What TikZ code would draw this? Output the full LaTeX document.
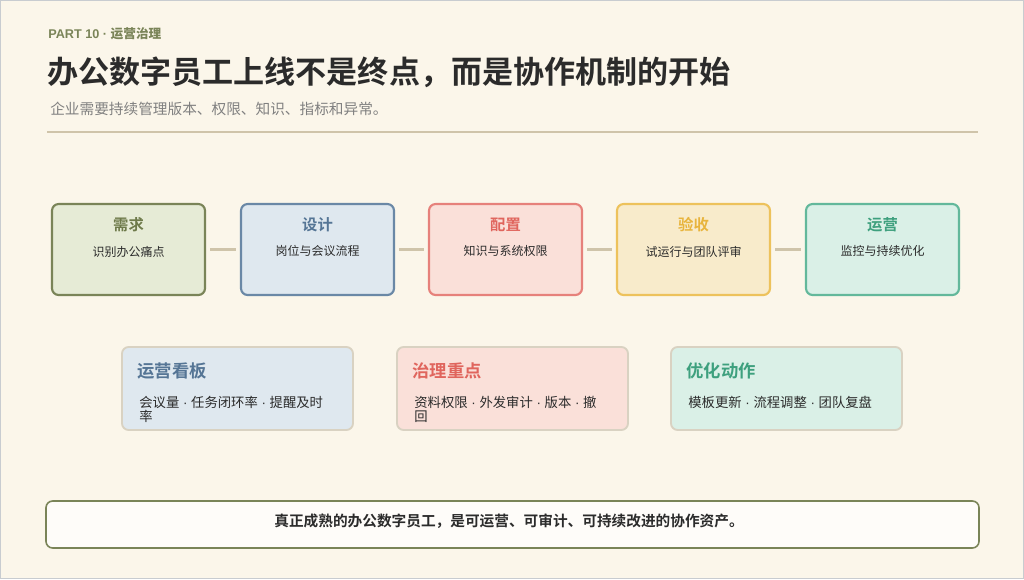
\documentclass[tikz,border=0pt]{standalone}
\usepackage{fontspec}
\setmainfont{Noto Sans CJK SC}
\newfontfamily\cjkb{Noto Sans CJK SC Bold}
\newfontfamily\latb{Liberation Sans}[BoldFont=* Bold]
\newcommand{\sepdot}{{\latb\ ·\ }}
\definecolor{bg}{HTML}{FBF6EA}
\definecolor{frame}{HTML}{C8CCD0}
\definecolor{rulec}{HTML}{CFC4AA}
\definecolor{olive}{HTML}{7A8458}
\definecolor{oliveT}{HTML}{6E7A4A}
\definecolor{oliveF}{HTML}{E6EBD6}
\definecolor{blueB}{HTML}{6A88A6}
\definecolor{blueT}{HTML}{557595}
\definecolor{blueF}{HTML}{DFE8EF}
\definecolor{redB}{HTML}{E6817B}
\definecolor{redT}{HTML}{E0655D}
\definecolor{redF}{HTML}{FAE0D9}
\definecolor{yelB}{HTML}{EDC25C}
\definecolor{yelT}{HTML}{E8B43C}
\definecolor{yelF}{HTML}{F8EBCB}
\definecolor{grnB}{HTML}{63B89B}
\definecolor{grnT}{HTML}{3EA07E}
\definecolor{grnF}{HTML}{DAF0E7}
\definecolor{softB}{HTML}{D9D2C2}
\definecolor{dark}{HTML}{2B2B2B}
\definecolor{grey}{HTML}{808080}
\begin{document}
\begin{tikzpicture}[x=0.75pt,y=-0.75pt,
  stage/.style={draw=#1,line width=1.6pt,rounded corners=5pt,minimum width=153*0.75pt,minimum height=91*0.75pt,inner sep=0pt},
  card/.style={draw=softB,line width=1.4pt,rounded corners=5pt,minimum width=231*0.75pt,minimum height=83*0.75pt,inner sep=0pt},
  link/.style={draw=rulec,line width=2.2pt},
  sttitle/.style={font=\cjkb\fontsize{11.5}{13}\selectfont,inner sep=0pt},
  stsub/.style={font=\fontsize{9}{11}\selectfont,text=dark,inner sep=0pt},
  cdtitle/.style={font=\cjkb\fontsize{13}{15}\selectfont,anchor=west,inner sep=0pt},
  cdtext/.style={font=\fontsize{10}{10.5}\selectfont,text=dark,anchor=north west,align=left,inner sep=0pt}]
\useasboundingbox (0,0) rectangle (1024,579);
\fill[bg] (0,0) rectangle (1024,579);
\draw[frame,line width=1.2pt] (0.6,0.6) rectangle (1023.4,578.4);
% header
\node[anchor=west,inner sep=0pt,text=olive,font=\latb\bfseries\fontsize{9.5}{11}\selectfont] (part) at (48,33.5) {PART 10 · {\cjkb 运营治理}};
\node[anchor=west,inner sep=0pt,text=dark,font=\cjkb\fontsize{23.3}{28}\selectfont] (title) at (47,72) {办公数字员工上线不是终点，而是协作机制的开始};
\node[anchor=west,inner sep=0pt,text=grey,font=\fontsize{11}{13}\selectfont] (subtitle) at (50,109) {企业需要持续管理版本、权限、知识、指标和异常。};
\coordinate (rl) at (47,132); \coordinate (rr) at (978,132);
\draw[rulec,line width=1.4pt] (rl) -- (rr);
% stages
\node[stage=olive,fill=oliveF] (s1) at (128.5,249.5) {};
\node[stage=blueB,fill=blueF] (s2) at (317.5,249.5) {};
\node[stage=redB,fill=redF] (s3) at (505.5,249.5) {};
\node[stage=yelB,fill=yelF] (s4) at (693.5,249.5) {};
\node[stage=grnB,fill=grnF] (s5) at (882.5,249.5) {};
\foreach \s/\t/\c/\d in {s1/需求/oliveT/识别办公痛点, s2/设计/blueT/岗位与会议流程, s3/配置/redT/知识与系统权限, s4/验收/yelT/试运行与团队评审, s5/运营/grnT/监控与持续优化}{
  \node[sttitle,text=\c] (\s t) at ([yshift=-21.5*0.75pt]\s.north) {\t};
  \node[stsub] (\s d) at ([yshift=-48.5*0.75pt]\s.north) {\d};
}
\foreach \a/\b in {s1/s2,s2/s3,s3/s4,s4/s5}{
  \draw[link] ([xshift=4*0.75pt]\a.east) -- ([xshift=-4*0.75pt]\b.west);
}
% cards
\node[card,fill=blueF] (c1) at (237.5,388.5) {};
\node[card,fill=redF] (c2) at (512.5,388.5) {};
\node[card,fill=grnF] (c3) at (786.5,388.5) {};
\node[cdtitle,text=blueT] (c1t) at ([xshift=16*0.75pt,yshift=-24.5*0.75pt]c1.north west) {运营看板};
\node[cdtitle,text=redT] (c2t) at ([xshift=16*0.75pt,yshift=-24.5*0.75pt]c2.north west) {治理重点};
\node[cdtitle,text=grnT] (c3t) at ([xshift=16*0.75pt,yshift=-24.5*0.75pt]c3.north west) {优化动作};
\node[cdtext] (c1d) at ([xshift=18*0.75pt,yshift=-49.5*0.75pt]c1.north west) {会议量\sepdot 任务闭环率\sepdot 提醒及时\\率};
\node[cdtext] (c2d) at ([xshift=18*0.75pt,yshift=-49.5*0.75pt]c2.north west) {资料权限\sepdot 外发审计\sepdot 版本\sepdot 撤\\回};
\node[cdtext] (c3d) at ([xshift=18*0.75pt,yshift=-49.5*0.75pt]c3.north west) {模板更新\sepdot 流程调整\sepdot 团队复盘};
% bottom
\node[draw=olive,fill=white!70!bg,line width=1.2pt,rounded corners=5pt,minimum width=933*0.75pt,minimum height=47*0.75pt,inner sep=0pt] (foot) at (512.5,524.5) {};
\node[inner sep=0pt,text=dark,font=\cjkb\fontsize{11}{13}\selectfont] (foott) at (509,521.5) {真正成熟的办公数字员工，是可运营、可审计、可持续改进的协作资产。};
\end{tikzpicture}
\end{document}
